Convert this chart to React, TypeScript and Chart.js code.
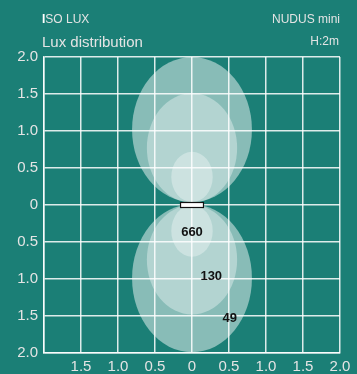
import React, { useEffect, useRef } from "react";
import { Chart, registerables } from "chart.js";

Chart.register(...registerables);

// Contour levels (lux) – index 0 = outermost
const contourLevels = [49, 130, 660];
// Ellipse geometry in metres (data units)
const radiusX = [0.81, 0.61, 0.28];
const upperCenterY = [1.02, 0.77, 0.38];
const upperRadiusY = [0.98, 0.74, 0.34];
const lowerCenterY = [-0.99, -0.74, -0.35];
const lowerRadiusY = [1.0, 0.74, 0.35];
// Level label positions (data units)
const labelX = [0.51, 0.26, 0];
const labelY = [-1.53, -0.97, -0.37];
// Luminaire
const luminaireX = 0;
const luminaireWidth = 0.31;
// Axis ranges
const axisMin = -2;
const axisMax = 2;
const axisStep = 0.5;

const BG = "#1b7f76";
const TXT = "#e4e4e4";
const FONT = "'Liberation Sans', Arial, sans-serif";
const fills = ["rgba(255,255,255,0.48)", "rgba(255,255,255,0.36)", "rgba(255,255,255,0.33)"];

const fmt = (v: number) => (v === 0 ? "0" : Math.abs(v).toFixed(1));

const isoPlugin = {
  id: "isolux",
  beforeDatasetsDraw(chart: any) {
    const { ctx, chartArea, scales } = chart;
    const xs = scales.x;
    const ys = scales.y;
    ctx.save();
    ctx.beginPath();
    ctx.rect(chartArea.left, chartArea.top, chartArea.right - chartArea.left, chartArea.bottom - chartArea.top);
    ctx.clip();
    const drawEll = (cy: number[], ry: number[]) => {
      for (let i = 0; i < contourLevels.length; i++) {
        const cx = xs.getPixelForValue(0);
        const cyp = ys.getPixelForValue(cy[i]);
        const rxp = Math.abs(xs.getPixelForValue(radiusX[i]) - xs.getPixelForValue(0));
        const ryp = Math.abs(ys.getPixelForValue(ry[i]) - ys.getPixelForValue(0));
        ctx.beginPath();
        ctx.ellipse(cx, cyp, rxp, ryp, 0, 0, Math.PI * 2);
        ctx.fillStyle = fills[i];
        ctx.fill();
      }
    };
    drawEll(upperCenterY, upperRadiusY);
    drawEll(lowerCenterY, lowerRadiusY);
    ctx.restore();

    // luminaire
    const l = xs.getPixelForValue(luminaireX - luminaireWidth / 2);
    const r = xs.getPixelForValue(luminaireX + luminaireWidth / 2);
    const y0 = ys.getPixelForValue(0);
    ctx.save();
    ctx.fillStyle = "#ffffff";
    ctx.strokeStyle = "#111111";
    ctx.lineWidth = 1.2;
    ctx.fillRect(l, y0 - 2.5, r - l, 5);
    ctx.strokeRect(l, y0 - 2.5, r - l, 5);

    // level labels
    ctx.fillStyle = "#111111";
    ctx.font = `bold 13px ${FONT}`;
    ctx.textAlign = "center";
    ctx.textBaseline = "middle";
    for (let i = 0; i < contourLevels.length; i++) {
      ctx.fillText(String(contourLevels[i]), xs.getPixelForValue(labelX[i]), ys.getPixelForValue(labelY[i]));
    }
    ctx.restore();
  },
  afterDraw(chart: any) {
    const { ctx, chartArea } = chart;
    ctx.save();
    ctx.fillStyle = TXT;
    ctx.textBaseline = "alphabetic";
    ctx.textAlign = "left";
    ctx.font = `bold 12px ${FONT}`;
    ctx.fillStyle = "#ffffff";
    ctx.fillText("I", 42, 23);
    const iw = ctx.measureText("I").width;
    ctx.font = `12px ${FONT}`;
    ctx.fillStyle = TXT;
    ctx.fillText("SO LUX", 42 + iw, 23);
    ctx.font = `15px ${FONT}`;
    ctx.fillText("Lux distribution", 42, 46.5);
    ctx.textAlign = "right";
    ctx.font = `12px ${FONT}`;
    ctx.fillText("NUDUS mini", chartArea.right, 23);
    ctx.fillText("H:2m", chartArea.right - 1, 45);
    ctx.restore();
  },
};

export default function App() {
  const ref = useRef<HTMLCanvasElement>(null);
  useEffect(() => {
    if (!ref.current) return;
    const gridOpts = {
      color: "rgba(255,255,255,0.85)",
      lineWidth: 1.5,
      drawTicks: false,
    };
    const chart = new Chart(ref.current, {
      type: "scatter",
      data: { datasets: [{ data: [], pointRadius: 0 }] },
      options: {
        animation: false,
        responsive: false,
        events: [],
        layout: { padding: { top: 57, right: 17, left: 0, bottom: 0 } },
        plugins: { legend: { display: false }, tooltip: { enabled: false } },
        scales: {
          x: {
            type: "linear",
            min: axisMin,
            max: axisMax,
            grid: gridOpts,
            border: { color: "rgba(255,255,255,0.85)", width: 1.5 },
            ticks: {
              stepSize: axisStep,
              padding: 5,
              color: TXT,
              font: { size: 15, family: FONT },
              maxRotation: 0,
              autoSkip: false,
              callback: (v: any) => (Number(v) === axisMin ? "" : fmt(Number(v))),
            },
            afterFit: (s: any) => {
              s.height = 21;
            },
          },
          y: {
            type: "linear",
            min: axisMin,
            max: axisMax,
            grid: gridOpts,
            border: { color: "rgba(255,255,255,0.85)", width: 1.5 },
            ticks: {
              stepSize: axisStep,
              padding: 6,
              color: TXT,
              font: { size: 15, family: FONT },
              autoSkip: false,
              callback: (v: any) => fmt(Number(v)),
            },
            afterFit: (s: any) => {
              s.width = 44;
            },
          },
        },
      },
      plugins: [isoPlugin],
    } as any);
    return () => chart.destroy();
  }, []);
  return (
    <div style={{ position: "absolute", left: 0, top: 0, width: 357, height: 374, background: BG }}>
      <canvas ref={ref} width={357} height={374} style={{ display: "block" }} />
    </div>
  );
}
